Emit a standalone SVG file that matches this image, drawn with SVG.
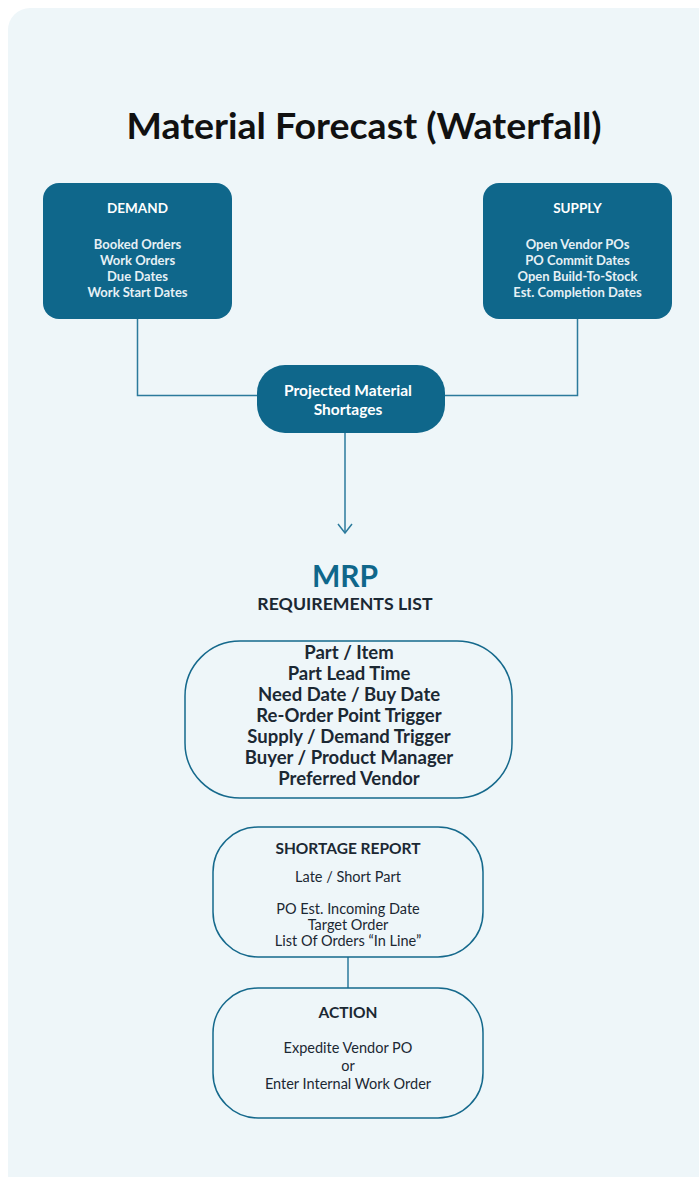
<svg xmlns="http://www.w3.org/2000/svg" width="699" height="1177" viewBox="0 0 699 1177">
<defs>
<style>
text{font-family:Lato,"Noto Sans",sans-serif;text-anchor:middle}
.dark{fill:#0F678B}
.wt{fill:#FFFFFF;font-weight:700}
.wl{fill:#E6F0F5;font-weight:700;font-size:13px}
.ol{fill:none;stroke:#15698C;stroke-width:1.5}
.conn{fill:none;stroke:#2B7A9C;stroke-width:1.5}
.tx{fill:#1B2833}
</style>
<marker id="arr" markerWidth="16" markerHeight="12" refX="8" refY="10" markerUnits="userSpaceOnUse">
<path d="M1,1 L8,10 L15,1" fill="none" stroke="#2B7A9C" stroke-width="1.5"/>
</marker>
</defs>
<rect x="0" y="0" width="699" height="1177" fill="#FFFFFF"/>
<rect x="8" y="8" width="720" height="1192" rx="22" fill="#EEF6F9"/>
<text x="364" y="139" font-size="36" font-weight="700" fill="#111111" textLength="475" lengthAdjust="spacingAndGlyphs">Material Forecast (Waterfall)</text>
<g id="connectors">
<path class="conn" d="M137.5,319 V395.5 H258"/>
<path class="conn" d="M577.5,319 V395.5 H444"/>
<path class="conn" d="M345,433 V533" marker-end="url(#arr)"/>
<path class="conn" d="M348,957 V988"/>
</g>
<g id="demand">
<rect class="dark" x="43" y="183" width="189" height="136" rx="16"/>
<text class="wt" x="137.5" y="213" font-size="13.5">DEMAND</text>
<text class="wl" x="137.5" y="249">Booked Orders</text>
<text class="wl" x="137.5" y="265">Work Orders</text>
<text class="wl" x="137.5" y="281">Due Dates</text>
<text class="wl" x="137.5" y="297">Work Start Dates</text>
</g>
<g id="supply">
<rect class="dark" x="483" y="183" width="189" height="136" rx="16"/>
<text class="wt" x="577.5" y="213" font-size="13.5">SUPPLY</text>
<text class="wl" x="577.5" y="249">Open Vendor POs</text>
<text class="wl" x="577.5" y="265">PO Commit Dates</text>
<text class="wl" x="577.5" y="281">Open Build-To-Stock</text>
<text class="wl" x="577.5" y="297">Est. Completion Dates</text>
</g>
<g id="projected">
<rect class="dark" x="257" y="365" width="188" height="68" rx="28"/>
<text class="wt" x="348" y="396" font-size="15.5">Projected Material</text>
<text class="wt" x="348" y="415" font-size="15.5">Shortages</text>
</g>
<g id="mrp">
<text x="345" y="587" font-size="30" font-weight="700" fill="#0F678B">MRP</text>
<text class="tx" x="345" y="610" font-size="17.7" font-weight="700">REQUIREMENTS LIST</text>
</g>
<g id="requirements">
<rect class="ol" x="185" y="641" width="327" height="157" rx="55"/>
<g class="tx" font-size="18.5" font-weight="700">
<text x="349" y="659">Part / Item</text>
<text x="349" y="680">Part Lead Time</text>
<text x="349" y="701">Need Date / Buy Date</text>
<text x="349" y="722">Re-Order Point Trigger</text>
<text x="349" y="743">Supply / Demand Trigger</text>
<text x="349" y="764">Buyer / Product Manager</text>
<text x="349" y="785">Preferred Vendor</text>
</g>
</g>
<g id="shortage">
<rect class="ol" x="213" y="827" width="270" height="130" rx="45"/>
<text class="tx" x="348" y="854" font-size="15.5" font-weight="700">SHORTAGE REPORT</text>
<g class="tx" font-size="14.5">
<text x="348" y="882">Late / Short Part</text>
<text x="348" y="914">PO Est. Incoming Date</text>
<text x="348" y="930">Target Order</text>
<text x="348" y="946">List Of Orders “In Line”</text>
</g>
</g>
<g id="action">
<rect class="ol" x="213" y="988" width="270" height="130" rx="45"/>
<text class="tx" x="348" y="1018" font-size="15.5" font-weight="700">ACTION</text>
<g class="tx" font-size="14.5">
<text x="348" y="1053">Expedite Vendor PO</text>
<text x="348" y="1071">or</text>
<text x="348" y="1089">Enter Internal Work Order</text>
</g>
</g>
</svg>
